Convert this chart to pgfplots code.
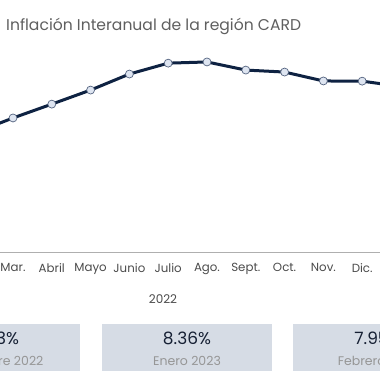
\documentclass[border=0pt]{standalone}
\usepackage{pgfplots}
\pgfplotsset{compat=1.18}
\usepackage{fontspec}
\setmainfont{Poppins}
\definecolor{navy}{RGB}{14,34,66}
\definecolor{mfill}{RGB}{222,229,241}
\definecolor{medge}{RGB}{85,100,128}
\definecolor{boxfill}{RGB}{214,220,229}
\definecolor{numcol}{RGB}{22,32,52}
\definecolor{labcol}{RGB}{150,150,150}
\definecolor{tickcol}{RGB}{75,75,75}
\definecolor{titlecol}{RGB}{95,95,95}
\definecolor{axcol}{RGB}{175,175,175}
\begin{document}
\begin{tikzpicture}[x=1pt,y=1pt]
\useasboundingbox (0,0) rectangle (380,380);
\clip (0,0) rectangle (380,380);
\begin{axis}[
  at={(0pt,128pt)}, anchor=south west,
  width=380pt, height=252pt, scale only axis,
  xmin=0.665, xmax=10.459, ymin=0, ymax=12.73,
  axis x line*=bottom, axis y line=none,
  x axis line style={draw=axcol, line width=0.8pt, -},
  xtick={1,...,10},
  xticklabels={Mar.,Abril,Mayo,Junio,Julio,Ago.,Sept.,Oct.,Nov.,Dic.},
  xticklabel style={font=\fontsize{11.8}{12}\selectfont, text=tickcol, yshift=-8pt},
  major tick length=0pt,
  ytick=\empty,
  clip=false,
]
\addplot[navy, line width=3pt, mark=*, mark size=4pt,
  mark options={fill=mfill, draw=medge, line width=0.7pt}]
  coordinates {(0,6.01) (1,6.77) (2,7.47) (3,8.18) (4,8.99) (5,9.54) (6,9.60)
  (7,9.19) (8,9.09) (9,8.64) (10,8.63) (11,8.36) (12,7.95)};
\end{axis}
\node[anchor=base west, text=titlecol, font=\fontsize{15.6}{16}\selectfont, inner sep=0] at (6,349) {Inflación Interanual de la región CARD};
\node[text=tickcol, font=\fontsize{12}{12}\selectfont] at (163,81) {2022};
\fill[boxfill] (-90,9) rectangle (80,56);
\fill[boxfill] (102,9) rectangle (272,56);
\fill[boxfill] (293,9) rectangle (463,56);
\foreach \cx/\num/\lab in {-5/8.63\%/Diciembre 2022, 187/8.36\%/Enero 2023, 378/7.95\%/Febrero 2023}{
  \node[text=numcol, font=\fontsize{17}{18}\selectfont] at (\cx,42) {\num};
  \node[text=labcol, font=\fontsize{12.5}{13}\selectfont] at (\cx,19) {\lab};
}
\end{tikzpicture}
\end{document}
